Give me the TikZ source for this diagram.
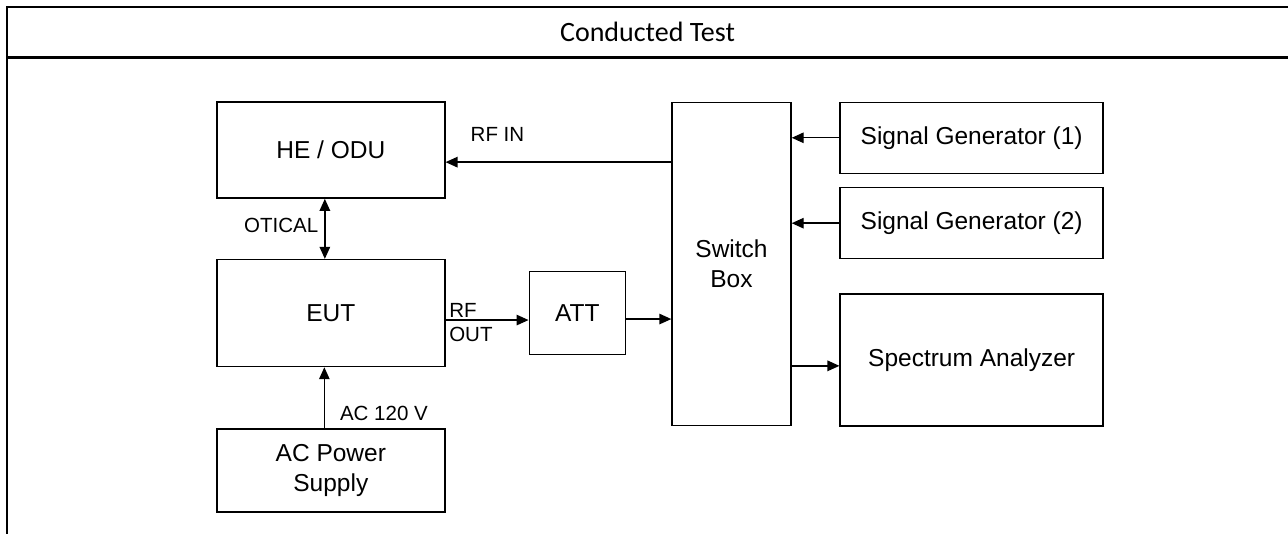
\documentclass[tikz,border=0pt]{standalone}
\usepackage{fontspec}
\setmainfont{Liberation Sans}
\newfontfamily\headfont{Carlito}
\usetikzlibrary{arrows.meta,positioning}

\begin{document}
\begin{tikzpicture}[
  x=1pt, y=-1pt,
  box/.style={draw, line width=1.4pt, align=center, inner sep=4pt, font=\fontsize{24.5}{30}\selectfont},
  lbl/.style={inner sep=0pt, font=\fontsize{20.5}{24}\selectfont},
  frame/.style={line width=2.3pt},
  arrow/.style={-{Triangle[length=12pt,width=10.5pt]}, line width=1.4pt},
  dblarrow/.style={{Triangle[length=12pt,width=10.5pt]}-{Triangle[length=12pt,width=10.5pt]}, line width=1.4pt}
]
\useasboundingbox (0,0) rectangle (1288,534);

\draw[frame] (1288,7) -- (7,7) -- (7,534);
\draw[frame] (7,57.5) -- (1288,57.5);
\node[font=\headfont\fontsize{28}{32}\selectfont] (title) at (647.5,32.3) {Conducted Test};

\node[box, minimum width=228pt, minimum height=96pt] (heodu) at (330.85,150.15) {HE / ODU};
\node[box, minimum width=228pt, minimum height=107pt, below=60pt of heodu] (eut) {EUT};
\node[box, minimum width=228pt, minimum height=83pt, below=61pt of eut] (acps) {AC Power\\Supply};
\node[box, minimum width=96pt, minimum height=83pt, right=83pt of eut] (att) {ATT};
\node[box, minimum width=119pt, minimum height=323pt] (switch) at (731.5,264) {Switch\\Box};
\node[box, minimum width=263pt, minimum height=71pt] (sg1) at (971.65,137.8) {Signal Generator (1)};
\node[box, minimum width=263pt, minimum height=71pt, below=13pt of sg1] (sg2) {Signal Generator (2)};
\node[box, minimum width=263pt, minimum height=132pt] (spec) at (971.65,359.85) {Spectrum Analyzer};

\coordinate[yshift=-12pt] (rfin) at (heodu.east);
\coordinate[xshift=-6pt] (opt) at (heodu.south);
\coordinate[yshift=-7pt] (rfout) at (eut.east);
\coordinate[yshift=-6pt] (attout) at (att.east);
\coordinate[yshift=-6pt] (specin) at (spec.west);
\coordinate[xshift=-6.5pt] (acout) at (acps.north);

\draw[arrow] (rfin -| switch.west) -- (rfin) node[lbl, pos=.77, above=20pt] {RF IN};
\draw[dblarrow] (opt) -- (opt |- eut.north) node[lbl, midway, left=6pt, yshift=3pt] {OTICAL};
\draw[arrow] (rfout) -- (rfout -| att.west)
  node[lbl, pos=0, anchor=base west, xshift=3pt, yshift=3pt] {RF}
  node[lbl, pos=0, anchor=north west, xshift=3pt, yshift=-6pt] {OUT};
\draw[arrow] (attout) -- (attout -| switch.west);
\draw[arrow] (sg1.west) -- (sg1.west -| switch.east);
\draw[arrow] (sg2.west) -- (sg2.west -| switch.east);
\draw[arrow] (specin -| switch.east) -- (specin);
\draw[arrow] (acout) -- (acout |- eut.south) node[lbl, pos=.25, right=15pt] {AC 120 V};
\end{tikzpicture}
\end{document}
